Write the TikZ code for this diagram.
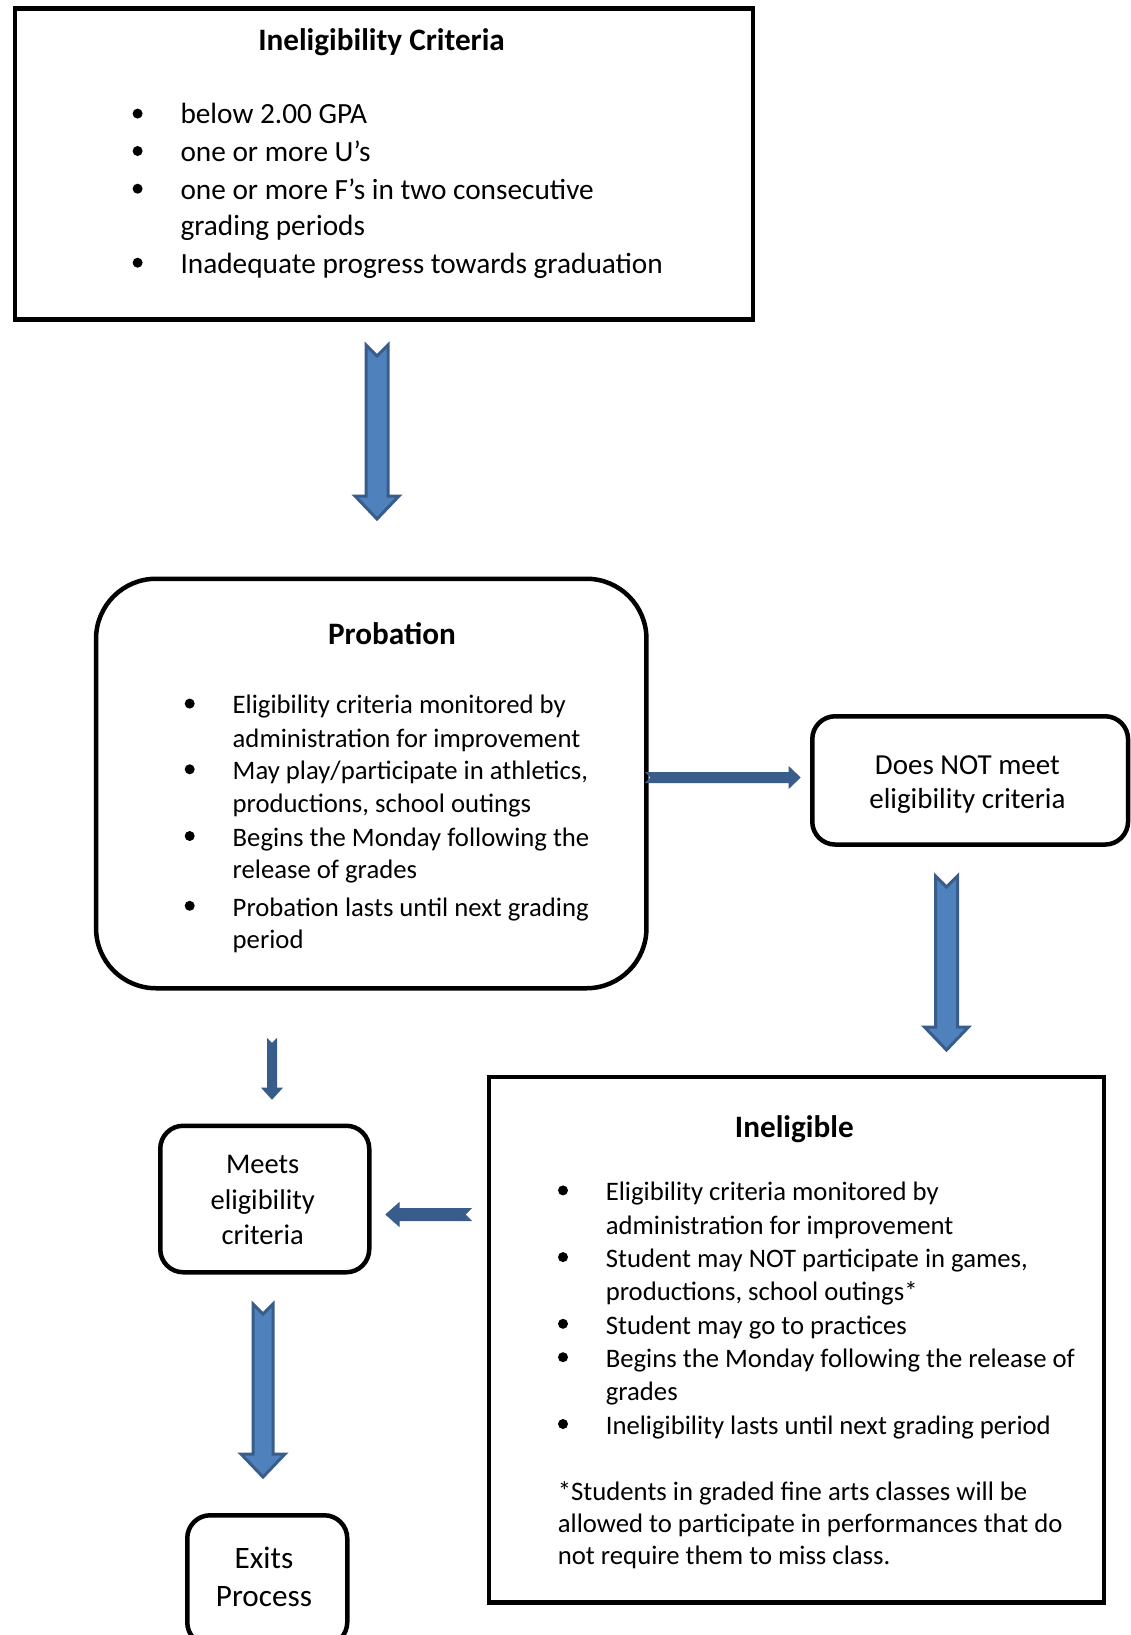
\documentclass[tikz,border=0pt]{standalone}
\usepackage{fontspec}
\setmainfont{Carlito}
\usetikzlibrary{calc, positioning}

\definecolor{arrowfill}{HTML}{4F81BD}
\definecolor{arrowline}{HTML}{385D8A}

\tikzset{
  sqbox/.style={draw, line width=4.5pt, anchor=north west, inner sep=0pt},
  rbox/.style={sqbox, rounded corners=23pt},
  ttl/.style={font=\fontsize{31.2}{37}\selectfont\bfseries, anchor=mid, inner sep=0pt, yshift=-8.3pt},
  itm/.style={font=\fontsize{26.7}{33}\selectfont, anchor=mid west, inner sep=0pt, yshift=-8pt},
  bigitm/.style={itm, font=\fontsize{29.3}{35}\selectfont},
  ctr/.style={font=\fontsize{29}{35}\selectfont, anchor=mid, inner sep=0pt, yshift=-8.3pt},
  dot/.style={circle, fill, inner sep=0pt, minimum size=10pt},
  bigarrow/.style={draw=arrowline, fill=arrowfill, line width=3pt},
  thinarrow/.style={draw=arrowline, fill=arrowline, line width=1pt},
}

% notched block arrow: start, tip, shaft half width, head half width, head length
\newcommand{\blockarrow}[6][bigarrow]{%
  \coordinate (hb) at ($(#3)!#6pt!(#2)$);
  \draw[#1] ($(#2)!#4pt!90:(#3)$) -- ($(#2)!#4pt!(#3)$) -- ($(#2)!#4pt!-90:(#3)$)
    -- ($(hb)!#4pt!-90:(#3)$) -- ($(hb)!#5pt!-90:(#3)$) -- (#3)
    -- ($(hb)!#5pt!90:(#3)$) -- ($(hb)!#4pt!90:(#3)$) -- cycle;
}

\begin{document}
\begin{tikzpicture}[x=1pt,y=-1pt]
    \useasboundingbox (0,0) rectangle (1130,1635);

    % Ineligibility criteria
    \node[sqbox, minimum width=738pt, minimum height=310.7pt] (crit) at (12.5,6.3) {};
    \node[ttl] (crittl) at (381.5,39.6) {Ineligibility Criteria};
    \node[dot] (cd1) at (137.6,113.6) {};
    \node[dot] (cd2) at (137.6,151) {};
    \node[dot] (cd3) at (137.6,188.7) {};
    \node[dot] (cd4) at (137.6,262.7) {};
    \node[bigitm] (ci1) at (180.3,113.6) {below 2.00 GPA};
    \node[bigitm] (ci2) at (180.3,151) {one or more U’s};
    \node[bigitm] (ci3) at (180.3,188.7) {one or more F’s in two consecutive};
    \node[bigitm] (ci4) at (180.3,225) {grading periods};
    \node[bigitm] (ci5) at (180.3,262.7) {Inadequate progress towards graduation};

    % Probation
    \node[sqbox, rounded corners=60pt, minimum width=550.4pt, minimum height=409.5pt] (prob) at (93.8,576.5) {};
    \node[ttl] (probtl) at (392,633.8) {Probation};
    \node[dot] (pd1) at (189.7,703.6) {};
    \node[dot] (pd2) at (189.7,769.3) {};
    \node[dot] (pd3) at (189.7,836) {};
    \node[dot] (pd4) at (189.7,905.8) {};
    \node[itm] (pi1) at (232.5,703.6) {Eligibility criteria monitored by};
    \node[itm] (pi2) at (232.5,737) {administration for improvement};
    \node[itm] (pi3) at (232.5,769.3) {May play/participate in athletics,};
    \node[itm] (pi4) at (232.5,802.6) {productions, school outings};
    \node[itm] (pi5) at (232.5,836) {Begins the Monday following the};
    \node[itm] (pi6) at (232.5,868.3) {release of grades};
    \node[itm] (pi7) at (232.5,905.8) {Probation lasts until next grading};
    \node[itm] (pi8) at (232.5,938.2) {period};

    % Does not meet
    \node[rbox, minimum width=315.8pt, minimum height=128.3pt] (notmeet) at (810,714) {};
    \node[ctr] (nm1) at (967.4,764) {Does NOT meet};
    \node[ctr] (nm2) at (967.4,797.4) {eligibility criteria};

    % Meets
    \node[rbox, minimum width=209pt, minimum height=146.5pt] (meets) at (158,1123.5) {};
    \node[ctr, font=\fontsize{28.5}{34}\selectfont] (me1) at (262.7,1162.3) {Meets};
    \node[ctr, font=\fontsize{28.5}{34}\selectfont] (me2) at (262.7,1198.8) {eligibility};
    \node[ctr, font=\fontsize{28.5}{34}\selectfont] (me3) at (262.7,1234.2) {criteria};

    % Exits
    \node[rbox, minimum width=160pt, minimum height=130pt] (exits) at (185,1513) {};
    \node[ctr, font=\fontsize{31.2}{37}\selectfont] (ex1) at (264,1557.3) {Exits};
    \node[ctr, font=\fontsize{31.2}{37}\selectfont] (ex2) at (264,1596) {Process};

    % Ineligible
    \node[sqbox, minimum width=615pt, minimum height=525.3pt] (inel) at (486.8,1074.7) {};
    \node[ttl] (ineltl) at (794.3,1126.8) {Ineligible};
    \node[dot] (id1) at (563,1190.4) {};
    \node[dot] (id2) at (563,1257.1) {};
    \node[dot] (id3) at (563,1323.8) {};
    \node[dot] (id4) at (563,1357.2) {};
    \node[dot] (id5) at (563,1424) {};
    \node[itm] (ii1) at (605.6,1190.4) {Eligibility criteria monitored by};
    \node[itm] (ii2) at (605.6,1223.8) {administration for improvement};
    \node[itm] (ii3) at (605.6,1257.1) {Student may NOT participate in games,};
    \node[itm] (ii4) at (605.6,1290.5) {productions, school outings*};
    \node[itm] (ii5) at (605.6,1323.8) {Student may go to practices};
    \node[itm] (ii6) at (605.6,1357.2) {Begins the Monday following the release of};
    \node[itm] (ii7) at (605.6,1390.5) {grades};
    \node[itm] (ii8) at (605.6,1424) {Ineligibility lasts until next grading period};
    \node[itm] (fn1) at (557.7,1489.6) {*Students in graded fine arts classes will be};
    \node[itm] (fn2) at (557.7,1521.9) {allowed to participate in performances that do};
    \node[itm] (fn3) at (557.7,1554.2) {not require them to miss class.};

    % Block arrows
    \coordinate (ar1s) at (377,345);
    \coordinate (ar1e) at (377,519);
    \blockarrow{ar1s}{ar1e}{11}{22}{23}

    \coordinate (ar2s) at (646,777.5);
    \coordinate (ar2e) at (800,777.5);
    \blockarrow[thinarrow]{ar2s}{ar2e}{5}{10.5}{11}

    \coordinate (ar3s) at (946.5,876);
    \coordinate (ar3e) at (946.5,1050);
    \blockarrow{ar3s}{ar3e}{11}{22}{23}

    \coordinate (ar4s) at (471,1214.5);
    \coordinate (ar4e) at (386,1214.5);
    \blockarrow[thinarrow]{ar4s}{ar4e}{6}{11.5}{13}

    \coordinate (ar5s) at (272,1039);
    \coordinate (ar5e) at (272,1099);
    \blockarrow[thinarrow]{ar5s}{ar5e}{4.5}{10}{11}

    \coordinate (ar6s) at (263,1304);
    \coordinate (ar6e) at (263,1477);
    \blockarrow{ar6s}{ar6e}{10}{22}{23}

\end{tikzpicture}
\end{document}
